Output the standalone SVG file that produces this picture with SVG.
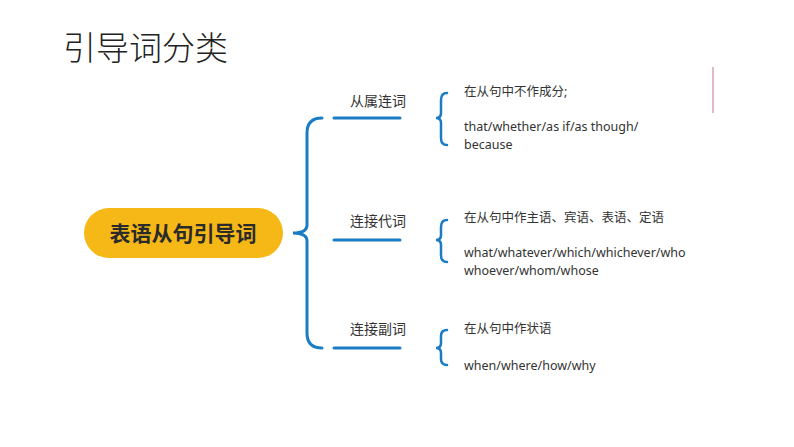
<svg xmlns="http://www.w3.org/2000/svg" width="794" height="447" viewBox="0 0 794 447">
<style>
.c{stroke:#1a7cc4;stroke-width:3;fill:none;stroke-linecap:round}
.s{stroke:#1a7cc4;stroke-width:2.5;fill:none;stroke-linecap:round}
.l{font-family:"Noto Sans CJK SC",sans-serif;font-size:14px;fill:#333}
.t{font-family:"Noto Sans","Noto Sans CJK SC",sans-serif;font-size:12.5px;fill:#333}
</style>
<rect width="794" height="447" fill="#fff"/>
<text x="63" y="60" font-family="Noto Sans CJK SC,sans-serif" font-weight="300" font-size="33" fill="#222">引导词分类</text>
<line x1="713" y1="67" x2="713" y2="113" stroke="#d9a0b8" stroke-width="1.5"/>
<g id="root"><rect x="84" y="208" width="199" height="50" rx="25" fill="#F6B817"/>
<text x="183" y="241" text-anchor="middle" font-family="Noto Sans CJK SC,sans-serif" font-weight="bold" font-size="21" fill="#2a2a2a">表语从句引导词</text></g>
<g id="connectors">
<path class="c" d="M322,118 Q307,118 307,133 L307,225 Q307,233 293,233 Q307,233 307,241 L307,333 Q307,348 322,348"/>
<line class="c" x1="334" y1="118" x2="400" y2="118"/>
<line class="c" x1="334" y1="240" x2="400" y2="240"/>
<line class="c" x1="334" y1="348" x2="400" y2="348"/>
<path class="s" d="M447,93 Q441,93 441,100 L441,113 Q441,118 436,118 Q441,118 441,123 L441,138 Q441,145 447,145"/>
<path class="s" d="M447,220 Q441,220 441,227 L441,235 Q441,240 436,240 Q441,240 441,245 L441,255 Q441,262 447,262"/>
<path class="s" d="M447,330 Q441,330 441,336 L441,343 Q441,348 436,348 Q441,348 441,353 L441,359 Q441,365 447,365"/>
</g>
<g id="n1"><text class="l" x="350" y="106">从属连词</text>
<text class="t" x="464" y="96">在从句中不作成分;</text>
<text class="t" x="464" y="131">that/whether/as if/as though/</text>
<text class="t" x="464" y="149">because</text></g>
<g id="n2"><text class="l" x="350" y="226">连接代词</text>
<text class="t" x="464" y="222">在从句中作主语、宾语、表语、定语</text>
<text class="t" x="464" y="257">what/whatever/which/whichever/who</text>
<text class="t" x="464" y="275">whoever/whom/whose</text></g>
<g id="n3"><text class="l" x="350" y="334">连接副词</text>
<text class="t" x="464" y="333">在从句中作状语</text>
<text class="t" x="464" y="370">when/where/how/why</text></g>
</svg>
